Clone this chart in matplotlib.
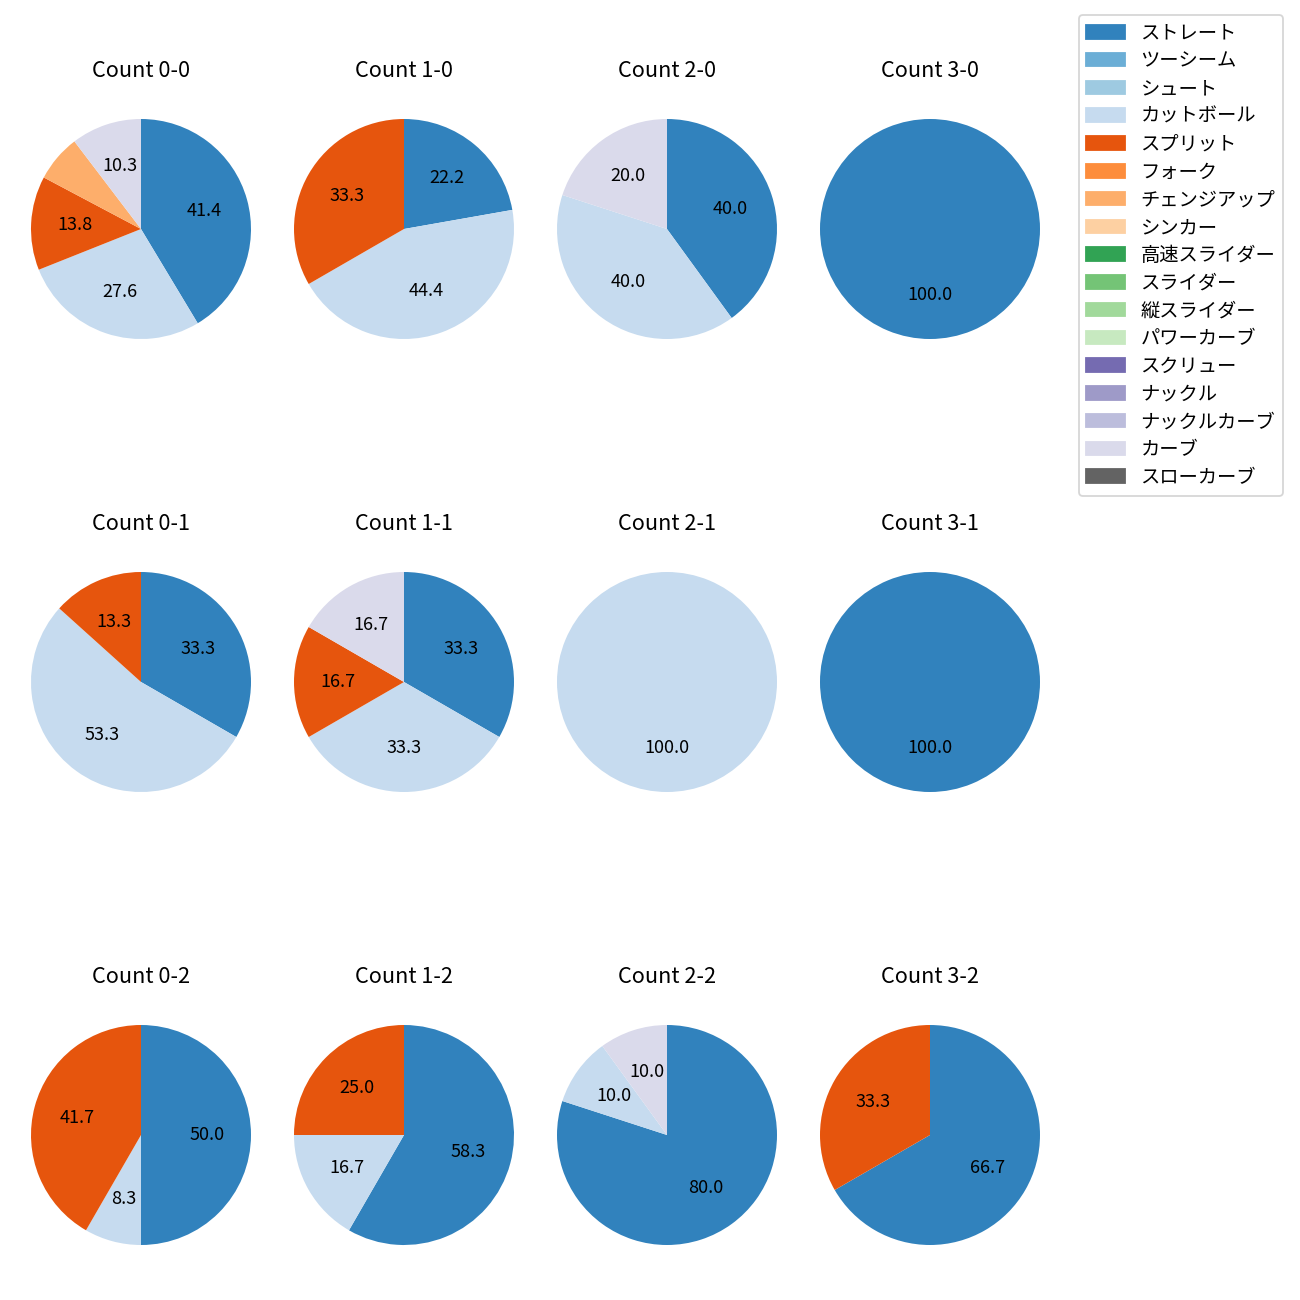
import matplotlib
matplotlib.use("Agg")
import matplotlib.pyplot as plt
from matplotlib.patches import Patch

plt.rcParams['font.family'] = ['Noto Sans CJK JP', 'DejaVu Sans']

pitch_types = ['ストレート', 'ツーシーム', 'シュート', 'カットボール', 'スプリット', 'フォーク',
               'チェンジアップ', 'シンカー', '高速スライダー', 'スライダー', '縦スライダー',
               'パワーカーブ', 'スクリュー', 'ナックル', 'ナックルカーブ', 'カーブ', 'スローカーブ']

# pitches thrown per count, in pitch_types order
count_0_0 = [12, 0, 0, 8, 4, 0, 2, 0, 0, 0, 0, 0, 0, 0, 0, 3, 0]
count_1_0 = [2, 0, 0, 4, 3, 0, 0, 0, 0, 0, 0, 0, 0, 0, 0, 0, 0]
count_2_0 = [2, 0, 0, 2, 0, 0, 0, 0, 0, 0, 0, 0, 0, 0, 0, 1, 0]
count_3_0 = [1, 0, 0, 0, 0, 0, 0, 0, 0, 0, 0, 0, 0, 0, 0, 0, 0]
count_0_1 = [5, 0, 0, 8, 2, 0, 0, 0, 0, 0, 0, 0, 0, 0, 0, 0, 0]
count_1_1 = [2, 0, 0, 2, 1, 0, 0, 0, 0, 0, 0, 0, 0, 0, 0, 1, 0]
count_2_1 = [0, 0, 0, 1, 0, 0, 0, 0, 0, 0, 0, 0, 0, 0, 0, 0, 0]
count_3_1 = [1, 0, 0, 0, 0, 0, 0, 0, 0, 0, 0, 0, 0, 0, 0, 0, 0]
count_0_2 = [6, 0, 0, 1, 5, 0, 0, 0, 0, 0, 0, 0, 0, 0, 0, 0, 0]
count_1_2 = [7, 0, 0, 2, 3, 0, 0, 0, 0, 0, 0, 0, 0, 0, 0, 0, 0]
count_2_2 = [8, 0, 0, 1, 0, 0, 0, 0, 0, 0, 0, 0, 0, 0, 0, 1, 0]
count_3_2 = [2, 0, 0, 0, 1, 0, 0, 0, 0, 0, 0, 0, 0, 0, 0, 0, 0]

count_labels = [['0-0', '1-0', '2-0', '3-0'],
                ['0-1', '1-1', '2-1', '3-1'],
                ['0-2', '1-2', '2-2', '3-2']]
count_data = [[count_0_0, count_1_0, count_2_0, count_3_0],
              [count_0_1, count_1_1, count_2_1, count_3_1],
              [count_0_2, count_1_2, count_2_2, count_3_2]]

cmap = plt.get_cmap('tab20c')
colors = [cmap(i) for i in range(len(pitch_types))]

fig, axes = plt.subplots(3, 4, figsize=(10, 10), dpi=130)

W, H = 1300, 1300
box = 275
cx = [141, 404, 667, 930]
cy = [229, 682, 1135]

for r in range(3):
    for c in range(4):
        ax = axes[r, c]
        ax.pie(count_data[r][c], colors=colors, startangle=90, counterclock=False,
               autopct=lambda p: f'{p:.1f}' if p >= 7 else '')
        ax.set_title('Count ' + count_labels[r][c], pad=8.2)
        ax.set_position([(cx[c] - box / 2) / W, 1 - (cy[r] + box / 2) / H, box / W, box / H])

handles = [Patch(color=colors[i], label=pitch_types[i]) for i in range(len(pitch_types))]
fig.legend(handles=handles, loc='upper right', bbox_to_anchor=(1283 / W, 1 - 15 / H),
           borderaxespad=0, fontsize=10.7, labelspacing=0.35)

plt.savefig('out.png')
